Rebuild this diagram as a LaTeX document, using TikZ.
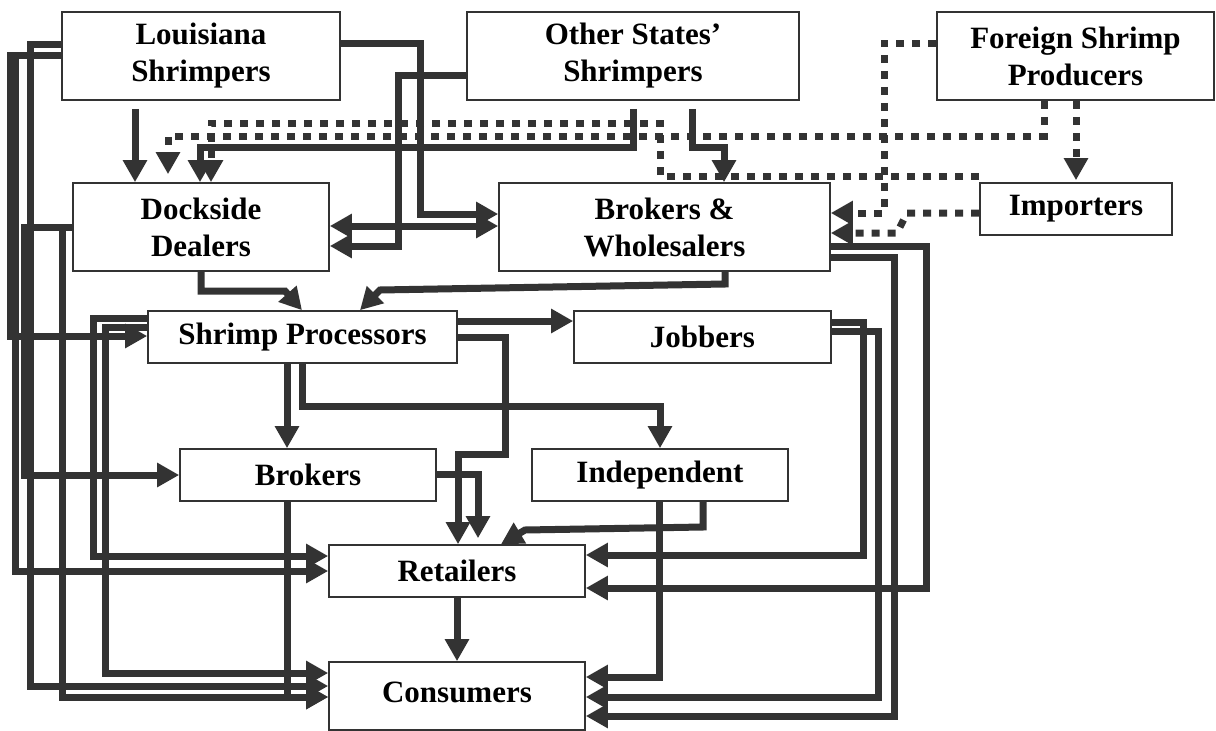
\documentclass[tikz,border=0pt]{standalone}
\usepackage{fontspec}
\setmainfont{Liberation Serif}
\usetikzlibrary{arrows.meta,calc}
\definecolor{ink}{HTML}{333333}
\begin{document}
\begin{tikzpicture}[x=1pt,y=-1pt,
  box/.style={draw=ink, line width=1.6pt, fill=white, inner sep=0pt, align=center,
    font=\fontsize{31}{37}\selectfont\bfseries},
  flow/.style={draw=ink, line width=7pt, -{Triangle[length=22pt,width=23pt]}},
  dflow/.style={draw=ink, line width=7pt, {Triangle[length=22pt,width=23pt]}-{Triangle[length=22pt,width=23pt]}},
  dots/.style={flow, dash pattern=on 8pt off 8pt},
]
\useasboundingbox (0,0) rectangle (1216,731);
% boxes
\node[box, minimum width=278pt, minimum height=88pt] (LS) at (201,56) {Louisiana\\Shrimpers};
\node[box, minimum width=332pt, minimum height=88pt] (OS) at (633,56) {Other States’\\Shrimpers};
\node[box, minimum width=277pt, minimum height=88pt] (FP) at (1075.5,56) {Foreign Shrimp\\Producers};
\node[box, minimum width=256pt, minimum height=88pt] (DD) at (201,227) {Dockside\\Dealers};
\node[box, minimum width=331pt, minimum height=88pt] (BW) at (664.5,227) {Brokers \&\\Wholesalers};
\node[box, minimum width=192pt, minimum height=52pt] (IM) at (1076,209) {Importers};
\node[box, minimum width=309pt, minimum height=52pt] (SP) at (302.5,337) {Shrimp Processors};
\node[box, minimum width=257pt, minimum height=52pt] (JO) at (702.5,337) {Jobbers};
\node[box, minimum width=256pt, minimum height=52pt] (BR) at (308,475) {Brokers};
\node[box, minimum width=256pt, minimum height=52pt] (IN) at (660,475) {Independent};
\node[box, minimum width=256pt, minimum height=52pt] (RE) at (457,571) {Retailers};
\node[box, minimum width=256pt, minimum height=68pt] (CO) at (457,696) {\raisebox{7pt}{Consumers}};

% top region, solid
\draw[flow] ($(LS.south -| 135,0)+(0,8)$) -- (DD.north -| 135,0);
\draw[flow] (LS.east |- 0,43) -| (420,214) -- (BW.west |- 0,214);
\draw[dflow] (DD.east |- 0,226) -- (BW.west |- 0,226);
\draw[flow] (OS.west |- 0,75) -| (398,246) -- (DD.east |- 0,246);
\draw[flow] ($(OS.south -| 633,0)+(0,8)$) |- (200,147) -- (DD.north -| 200,0);
\draw[flow] ($(OS.south -| 692,0)+(0,8)$) |- (724,147) -- (BW.north -| 724,0);

% dotted flows
\draw[dots] (FP.south -| 1044,0) |- (168,136) -- ($(DD.north -| 168,0)+(0,-8)$);
\draw[dots] (IM.north west |- 0,176) -- (660,176) -- (660,123) -- (211,123) -- (DD.north -| 211,0);
\draw[dots] (FP.west |- 0,43) -| (884,213) -- (BW.east |- 0,213);
\draw[dots] (IM.west |- 0,213) -- (907,213) -- (897,233) -- (BW.east |- 0,233);
\draw[dots] (FP.south -| 1076,0) -- ($(IM.north -| 1076,0)+(0,-2)$);

% to processors
\draw[flow] (DD.south -| 201,0) -- (201,291) -- (285,291) -- (SP.north -| 302,0);
\draw[flow] (BW.south -| 725,0) -- (725,284) -- (380,290) -- (SP.north -| 360,0);

% processors out
\draw[flow] (SP.east |- 0,321) -- (JO.west |- 0,321);
\draw[flow] (SP.east |- 0,337) -| (505,454) -| (RE.north -| 458,0);
\draw[flow] (SP.south -| 287,0) -- (BR.north -| 287,0);
\draw[flow] (SP.south -| 302,0) |- (660,406) -- (IN.north -| 660,0);
\draw[flow] (SP.west |- 0,318) -| (93,556) -- (RE.west |- 0,556);
\draw[flow] (SP.west |- 0,327) -| (105,673) -- (CO.west |- 0,673);

% brokers, independent, retailers
\draw[flow] (BR.east |- 0,474) -| ($(RE.north -| 478,0)+(0,-6)$);
\draw[flow] (BR.south -| 287,0) |- (CO.west |- 0,697);
\draw[flow] (IN.south -| 703,0) -- (703,527) -- (525,530) -- (RE.north -| 501,0);
\draw[flow] (IN.south -| 659,0) |- (CO.east |- 0,677);
\draw[flow] (RE.south -| 457,0) -- (CO.north -| 457,0);

% jobbers, brokers & wholesalers right side
\draw[flow] (JO.east |- 0,322) -| (863,555) -- (RE.east |- 0,555);
\draw[flow] (JO.east |- 0,331) -| (878,697) -- (CO.east |- 0,697);
\draw[flow] (BW.east |- 0,246) -| (926,588) -- (RE.east |- 0,588);
\draw[flow] (BW.east |- 0,257) -| (894,716) -- (CO.east |- 0,716);

% left side
\draw[flow] (LS.west |- 0,44) -| (30,686) -- (CO.west |- 0,686);
\draw[flow] (LS.west |- 0,55) -| (10,336) -- (SP.west |- 0,336);
\draw[flow] (LS.west |- 0,55) -| (15,571) -- (RE.west |- 0,571);
\draw[flow] (DD.west |- 0,227) -| (24,475) -- (BR.west |- 0,475);
\draw[flow] (DD.west |- 0,227) -| (62,697) -- (CO.west |- 0,697);
\end{tikzpicture}
\end{document}
